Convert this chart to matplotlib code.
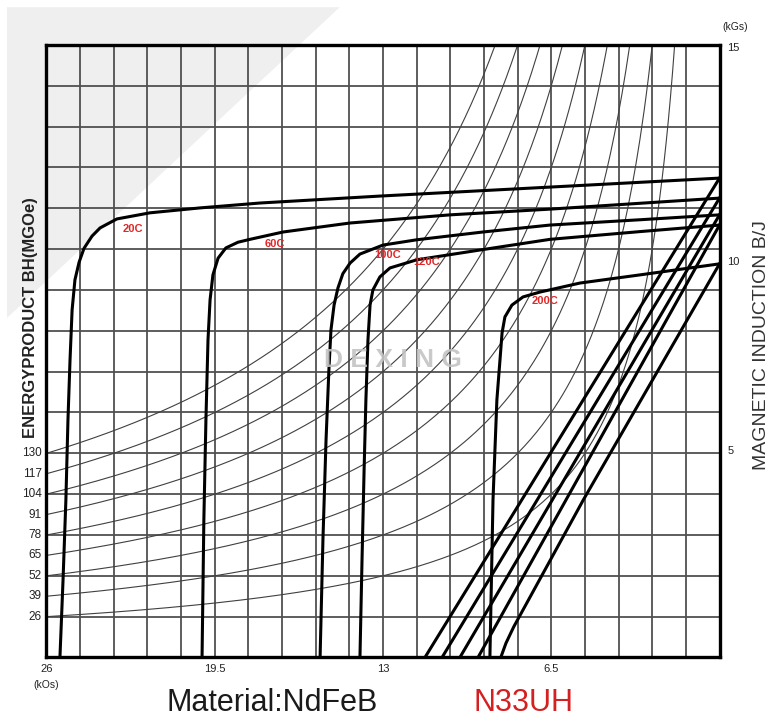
import matplotlib
matplotlib.use('Agg')
import matplotlib.pyplot as plt
from matplotlib.patches import Polygon
import numpy as np

plt.rcParams['font.family'] = ['Liberation Sans', 'DejaVu Sans']

# 能积等值线 BH (MGOe)
bh_values = [26, 39, 52, 65, 78, 91, 104, 117, 130]

# 内禀曲线 J (H kOe, B kGs)
j20_h = [25.48, 25.36, 25.25, 25.17, 25.09, 25.01, 24.90, 24.74, 24.55, 24.24, 23.93, 23.28, 22.00, 20.07, 17.75, 13.12, 6.55, 0]
j20_b = [0, 1.90, 3.86, 5.82, 7.29, 8.51, 9.25, 9.68, 10.02, 10.32, 10.52, 10.74, 10.89, 11.01, 11.13, 11.30, 11.52, 11.74]
j60_h = [19.99, 19.92, 19.84, 19.76, 19.68, 19.57, 19.37, 19.07, 18.60, 18.14, 16.86, 14.28, 10.41, 6.55, 0]
j60_b = [0, 3.37, 5.82, 7.78, 8.76, 9.37, 9.78, 10.03, 10.17, 10.24, 10.42, 10.64, 10.84, 10.98, 11.25]
j100_h = [15.43, 15.32, 15.20, 15.09, 15.01, 14.89, 14.74, 14.55, 14.27, 13.89, 13.00, 11.69, 9.14, 6.55, 3.07, 0]
j100_b = [0, 2.88, 5.33, 7.04, 8.02, 8.63, 9.05, 9.40, 9.66, 9.88, 10.10, 10.23, 10.42, 10.59, 10.72, 10.84]
j120_h = [13.89, 13.81, 13.73, 13.66, 13.58, 13.50, 13.39, 13.12, 12.73, 11.69, 9.14, 6.55, 3.07, 0]
j120_b = [0, 2.39, 4.59, 6.31, 7.78, 8.63, 9.00, 9.32, 9.54, 9.74, 9.99, 10.24, 10.43, 10.59]
j200_h = [8.87, 8.75, 8.60, 8.48, 8.40, 8.29, 8.02, 7.59, 6.93, 5.39, 3.07, 0]
j200_b = [0, 3.86, 6.31, 7.29, 7.95, 8.34, 8.63, 8.83, 8.95, 9.17, 9.37, 9.64]

# 退磁曲线 B
b20_h, b20_b = [0, 11.38], [11.74, 0]
b60_h, b60_b = [0, 10.72], [11.25, 0]
b100_h, b100_b = [0, 10.03], [10.84, 0]
b120_h, b120_b = [0, 9.33], [10.59, 0]
b200_h = [0, 5.26, 7.95, 8.25, 8.45]
b200_b = [9.64, 3.86, 0.75, 0.35, 0]

temp_labels = ['20C', '60C', '100C', '120C', '200C']
temp_label_h = [22.65, 17.17, 12.81, 11.30, 6.74]
temp_label_b = [10.49, 10.13, 9.86, 9.69, 8.73]

h_ticks = [26, 19.5, 13, 6.5]
h_tick_labels = ['26', '19.5', '13', '6.5']
b_ticks = [14.93, 9.68, 5.05]
b_tick_labels = ['15', '10', '5']

fig = plt.figure(figsize=(7.72, 7.21), dpi=100)
# 左上角灰色背景
fig.patches.append(Polygon([(0.009, 0.990), (0.440, 0.990), (0.009, 0.559)],
                           closed=True, transform=fig.transFigure,
                           facecolor='#efefef', edgecolor='none', zorder=-10))

ax = fig.add_axes([0.0602, 0.0881, 0.8718, 0.8495])
ax.set_facecolor('none')
ax.set_xlim(26, 0)
ax.set_ylim(0, 15)
ax.set_xticks(np.arange(0, 26.01, 1.3))
ax.set_yticks(np.arange(0, 16, 1))
ax.grid(color='#505050', lw=1.3)
ax.tick_params(length=0, labelbottom=False, labelleft=False)
for sp in ax.spines.values():
    sp.set_linewidth(2.4)
    sp.set_color('black')
    sp.set_zorder(5)

# 能积曲线
for c in bh_values:
    hh = np.linspace(26, c / 15.0, 300)
    ax.plot(hh, c / hh, color='#404040', lw=0.8, zorder=2)

for hh, bb in [(j20_h, j20_b), (j60_h, j60_b), (j100_h, j100_b), (j120_h, j120_b), (j200_h, j200_b),
               (b20_h, b20_b), (b60_h, b60_b), (b100_h, b100_b), (b120_h, b120_b), (b200_h, b200_b)]:
    ax.plot(hh, bb, color='black', lw=2.2, zorder=3, solid_joinstyle='round')

for t, hx, by in zip(temp_labels, temp_label_h, temp_label_b):
    ax.text(hx, by, t, color='#e02828', fontsize=8, fontweight='bold', ha='center', va='center', zorder=4)

# 左侧能积刻度
ytr = ax.get_yaxis_transform()
for c in bh_values:
    ax.text(-0.007, c / 26.0, str(c), transform=ytr, ha='right', va='center', fontsize=8.5, color='#222222')
for v, s in zip(b_ticks, b_tick_labels):
    ax.text(1.012, v, s, transform=ytr, ha='left', va='center', fontsize=8, color='#222222')
ax.text(1.005, 1.03, '(kGs)', transform=ax.transAxes, ha='left', va='center', fontsize=7.5, color='#222222')

xtr = ax.get_xaxis_transform()
for v, s in zip(h_ticks, h_tick_labels):
    ax.text(v, -0.01, s, transform=xtr, ha='center', va='top', fontsize=8, color='#222222')
ax.text(26, -0.037, '(kOs)', transform=xtr, ha='center', va='top', fontsize=7.5, color='#222222')

fig.text(0.040, 0.559, 'ENERGYPRODUCT BH(MGOe)', rotation=90, ha='center', va='center',
         fontsize=12, fontweight='bold', color='#222222')
fig.text(0.987, 0.5215, 'MAGNETIC INDUCTION B/J', rotation=90, ha='center', va='center',
         fontsize=14, color='#333333')

ax.text(0.515, 0.485, 'D E X I N G', transform=ax.transAxes, ha='center', va='center',
        fontsize=19, fontweight='bold', color='#c4c4c4', alpha=0.9, zorder=6)

fig.text(0.352, 0.025, 'Material:NdFeB', ha='center', va='center', fontsize=22, color='#1a1a1a')
fig.text(0.678, 0.025, 'N33UH', ha='center', va='center', fontsize=22, color='#d42020')

fig.savefig('out.png', dpi=100)
